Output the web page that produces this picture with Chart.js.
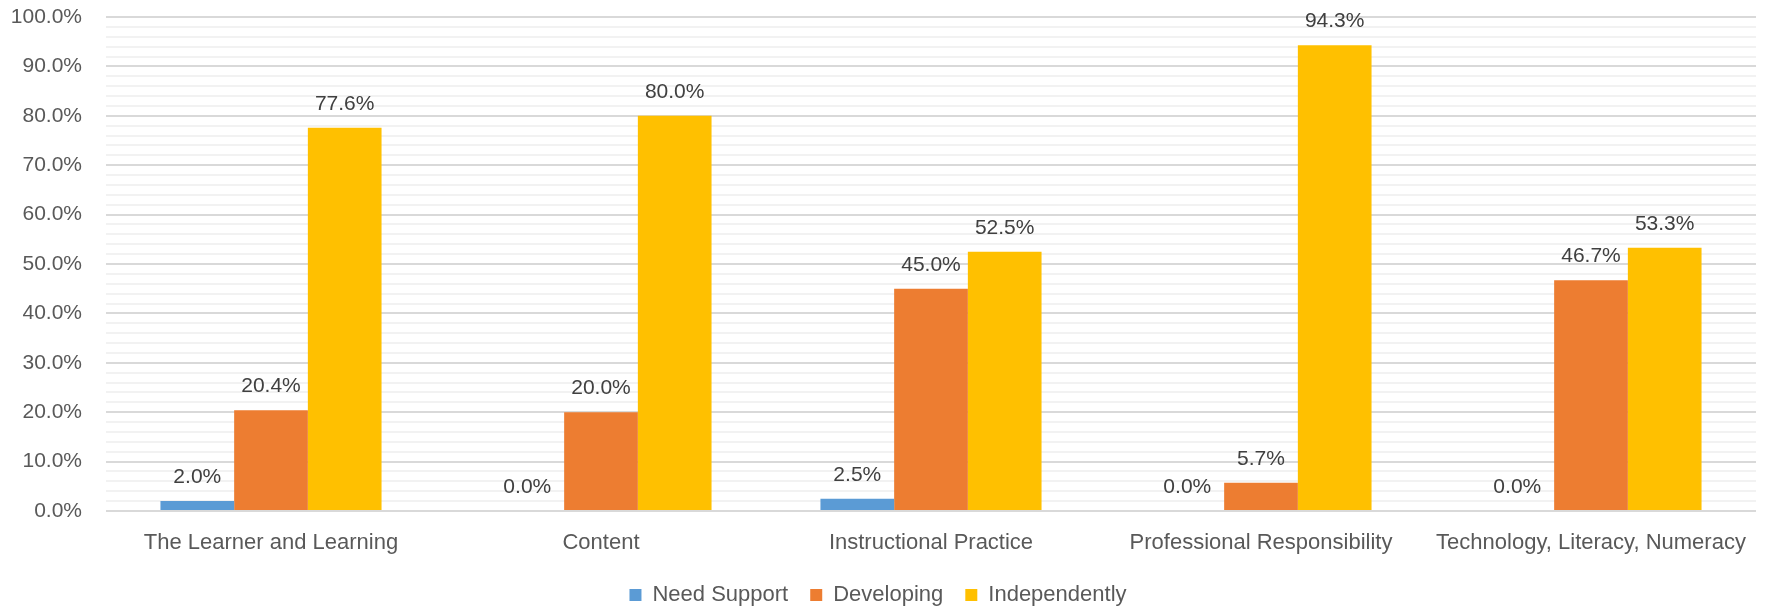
<!DOCTYPE html>
<html>
<head>
<meta charset="utf-8">
<script src="https://cdn.jsdelivr.net/npm/chart.js@4/dist/chart.umd.min.js"></script>
<style>
    html, body { margin: 0; padding: 0; background: #ffffff; }
    #wrap { width: 1767px; height: 610px; position: relative; }
</style>
</head>
<body>
<div id="wrap"><canvas id="chart"></canvas></div>
<script>
const categories = [
    "The Learner and Learning",
    "Content",
    "Instructional Practice",
    "Professional Responsibility",
    "Technology, Literacy, Numeracy"
];

const needSupport = [2.0, 0.0, 2.5, 0.0, 0.0];
const developing = [20.4, 20.0, 45.0, 5.7, 46.7];
const independently = [77.6, 80.0, 52.5, 94.3, 53.3];

const yMax = 100;
const yStep = 2;
const yLabelStep = 10;

const FONT = "'Liberation Sans', Arial, sans-serif";

// values written above each bar
const barLabels = {
    id: "barLabels",
    afterDatasetsDraw(chart) {
        const ctx = chart.ctx;
        ctx.save();
        ctx.font = "21px " + FONT;
        ctx.fillStyle = "#404040";
        ctx.textAlign = "center";
        ctx.textBaseline = "alphabetic";
        chart.data.datasets.forEach((ds, i) => {
            chart.getDatasetMeta(i).data.forEach((bar, j) => {
                ctx.fillText(ds.data[j].toFixed(1) + "%", bar.x, bar.y - 18);
            });
        });
        ctx.restore();
    }
};

// keep the legend band short so it sits near the bottom edge
const legendHeight = {
    id: "legendHeight",
    beforeInit(chart) {
        const legend = chart.legend;
        if (!legend) return;
        const fit = legend.fit;
        legend.fit = function () {
            fit.call(this);
            this.height = 48;
        };
    }
};

new Chart(document.getElementById("chart"), {
    type: "bar",

    data: {
        labels: categories,
        datasets: [
            { label: "Need Support", data: needSupport, backgroundColor: "#5B9BD5" },
            { label: "Developing", data: developing, backgroundColor: "#ED7D31" },
            { label: "Independently", data: independently, backgroundColor: "#FFC000" }
        ]
    },

    options: {
        responsive: true,
        maintainAspectRatio: false,
        animation: false,

        layout: {
            padding: { top: 17, right: 11, bottom: 0, left: 0 }
        },

        datasets: {
            bar: {
                categoryPercentage: 0.67,
                barPercentage: 1.0,
                borderWidth: 0
            }
        },

        plugins: {
            legend: {
                position: "bottom",
                labels: {
                    boxWidth: 12,
                    boxHeight: 12,
                    padding: 22,
                    color: "#595959",
                    font: { family: FONT, size: 22 }
                }
            },
            tooltip: { enabled: false }
        },

        scales: {
            x: {
                afterFit(scale) {
                    scale.height = 51;
                },
                grid: { display: false },
                border: { display: false },
                ticks: {
                    color: "#595959",
                    font: { family: FONT, size: 22 },
                    padding: 11,
                    maxRotation: 0
                }
            },

            y: {
                min: 0,
                max: yMax,
                border: { display: false },
                afterFit(scale) {
                    scale.width = 106;
                    scale.paddingTop = 0;
                    scale.paddingBottom = 0;
                },
                grid: {
                    drawTicks: false,
                    lineWidth: 2,
                    color: (c) => (Math.round(c.tick.value) % yLabelStep === 0 ? "#d9d9d9" : "#f2f2f2")
                },
                ticks: {
                    stepSize: yStep,
                    autoSkip: false,
                    padding: 24,
                    color: "#595959",
                    font: { family: FONT, size: 21 },
                    callback: (v) => (Math.round(v) % yLabelStep === 0 ? v.toFixed(1) + "%" : "")
                }
            }
        }
    },

    plugins: [barLabels, legendHeight]
});
</script>
</body>
</html>
